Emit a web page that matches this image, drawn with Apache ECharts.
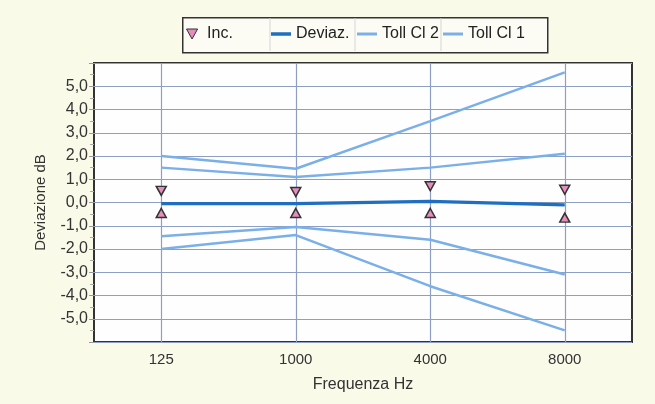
<!DOCTYPE html>
<html>
<head>
<meta charset="utf-8">
<script src="https://cdn.jsdelivr.net/npm/echarts@6/dist/echarts.min.js"></script>
<style>
html,body{margin:0;padding:0;background:#fafae9;}
#c{width:655px;height:404px;}
</style>
</head>
<body>
<div id="c"></div>
<script>
// Data
var categories = ['125', '1000', '4000', '8000'];
var deviaz = [-0.05, -0.05, 0.05, -0.1];
var incUpper = [0.5, 0.45, 0.7, 0.55];
var incLower = [-0.45, -0.45, -0.45, -0.65];
var tollCl2Upper = [2.0, 1.45, 3.5, 5.6];
var tollCl2Lower = [-2.0, -1.4, -3.6, -5.5];
var tollCl1Upper = [1.5, 1.1, 1.5, 2.1];
var tollCl1Lower = [-1.45, -1.05, -1.6, -3.1];
var yTicks = [-5, -4, -3, -2, -1, 0, 1, 2, 3, 4, 5];
var legendNames = ['Inc.', 'Deviaz.', 'Toll Cl 2', 'Toll Cl 1'];

var FONT = '"Liberation Sans", Arial, sans-serif';
var DARK = '#1e6fc1';
var LIGHT = '#7bafe7';
var GRID = '#8d9fc2';
var PINK = '#e68dbd';

var legendIcons = [
  {icon: 'path://M0,0L10,0L5,9Z', itemStyle: {color: PINK, borderColor: '#333', borderWidth: 1}},
  {icon: 'path://M0,0H20V3.5H0Z', itemStyle: {color: DARK, borderWidth: 0}},
  {icon: 'path://M0,0H17V2.5H0Z', itemStyle: {color: LIGHT, borderWidth: 0}},
  {icon: 'path://M0,0H17V2.5H0Z', itemStyle: {color: LIGHT, borderWidth: 0}}
];
var legendLeft = [186, 271, 357, 443];

var legends = legendNames.map(function (n, i) {
  return {
    left: legendLeft[i], top: 26, padding: 0,
    itemWidth: 20, itemHeight: 10, itemGap: 0,
    textStyle: {fontFamily: FONT, fontSize: 16, color: '#222'},
    data: [Object.assign({name: n}, legendIcons[i])]
  };
});

var chart = echarts.init(document.getElementById('c'), null, {renderer: 'canvas'});
chart.setOption({
  backgroundColor: '#fafae9',
  animation: false,
  graphic: [
    {type: 'rect', left: 182, top: 17, z: 0, shape: {width: 365, height: 35},
     style: {fill: '#fcfcf4', stroke: '#333', lineWidth: 1.5}},
    {type: 'line', z: 1, shape: {x1: 270, y1: 18, x2: 270, y2: 51}, style: {stroke: '#d4d4d4', lineWidth: 1}},
    {type: 'line', z: 1, shape: {x1: 355, y1: 18, x2: 355, y2: 51}, style: {stroke: '#d4d4d4', lineWidth: 1}},
    {type: 'line', z: 1, shape: {x1: 441, y1: 18, x2: 441, y2: 51}, style: {stroke: '#d4d4d4', lineWidth: 1}}
  ],
  legend: legends,
  grid: {
    left: 94, right: 23, top: 63, bottom: 62,
    show: true, backgroundColor: '#fefefe', borderColor: '#333', borderWidth: 2
  },
  xAxis: {
    type: 'category',
    data: categories,
    boundaryGap: true,
    name: 'Frequenza Hz',
    nameLocation: 'middle',
    nameGap: 35,
    nameTextStyle: {fontFamily: FONT, fontSize: 16, color: '#333'},
    axisLine: {show: false},
    axisTick: {show: true, alignWithLabel: true, length: 8, lineStyle: {color: GRID}},
    axisLabel: {fontFamily: FONT, fontSize: 15, color: '#333', margin: 10},
    splitLine: {show: true, alignWithLabel: true, lineStyle: {color: GRID, width: 1.2}}
  },
  yAxis: {
    type: 'value',
    min: -6, max: 6, interval: 1,
    name: 'Deviazione dB',
    nameLocation: 'middle',
    nameGap: 46,
    nameTextStyle: {fontFamily: FONT, fontSize: 15, color: '#333'},
    axisLine: {show: false},
    axisTick: {show: true, length: 5, lineStyle: {color: '#999'}},
    minorTick: {show: true, splitNumber: 2, length: 4, lineStyle: {color: '#aaa'}},
    axisLabel: {
      fontFamily: FONT, fontSize: 16, color: '#333', margin: 6,
      formatter: function (v) {
        return yTicks.indexOf(v) >= 0 ? v.toFixed(1).replace('.', ',') : '';
      }
    },
    splitLine: {show: true, lineStyle: {color: GRID, width: 1.2}}
  },
  series: [
    {name: 'Toll Cl 2', type: 'line', data: tollCl2Upper, symbol: 'none', lineStyle: {color: LIGHT, width: 2.5}, itemStyle: {color: LIGHT}, z: 2},
    {name: 'Toll Cl 2', type: 'line', data: tollCl2Lower, symbol: 'none', lineStyle: {color: LIGHT, width: 2.5}, itemStyle: {color: LIGHT}, z: 2},
    {name: 'Toll Cl 1', type: 'line', data: tollCl1Upper, symbol: 'none', lineStyle: {color: LIGHT, width: 2.5}, itemStyle: {color: LIGHT}, z: 2},
    {name: 'Toll Cl 1', type: 'line', data: tollCl1Lower, symbol: 'none', lineStyle: {color: LIGHT, width: 2.5}, itemStyle: {color: LIGHT}, z: 2},
    {name: 'Deviaz.', type: 'line', data: deviaz, symbol: 'none', lineStyle: {color: DARK, width: 3.2}, itemStyle: {color: DARK}, z: 3},
    {name: 'Inc.', type: 'scatter', data: incUpper, symbol: 'triangle', symbolRotate: 180, symbolSize: [10, 9],
     itemStyle: {color: PINK, borderColor: '#333', borderWidth: 1.5, opacity: 1}, z: 5},
    {name: 'Inc.', type: 'scatter', data: incLower, symbol: 'triangle', symbolSize: [10, 9],
     itemStyle: {color: PINK, borderColor: '#333', borderWidth: 1.5, opacity: 1}, z: 5}
  ]
});
</script>
</body>
</html>
